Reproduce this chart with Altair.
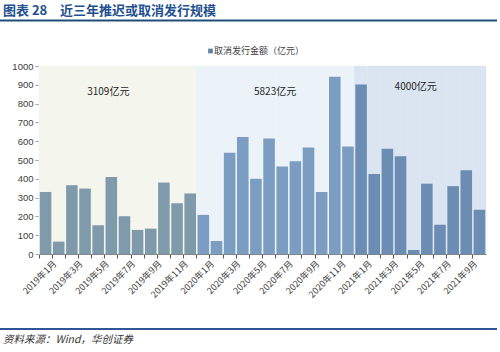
import altair as alt
import pandas as pd

months = [
    "2019年1月", "2019年2月", "2019年3月", "2019年4月", "2019年5月", "2019年6月",
    "2019年7月", "2019年8月", "2019年9月", "2019年10月", "2019年11月", "2019年12月",
    "2020年1月", "2020年2月", "2020年3月", "2020年4月", "2020年5月", "2020年6月",
    "2020年7月", "2020年8月", "2020年9月", "2020年10月", "2020年11月", "2020年12月",
    "2021年1月", "2021年2月", "2021年3月", "2021年4月", "2021年5月", "2021年6月",
    "2021年7月", "2021年8月", "2021年9月", "2021年10月",
]
values_2019 = [330, 66, 366, 348, 153, 410, 201, 128, 135, 380, 270, 322]
values_2020 = [208, 69, 538, 622, 400, 615, 465, 494, 567, 330, 943, 572]
values_2021 = [902, 425, 560, 520, 21, 374, 156, 361, 445, 236]
values = values_2019 + values_2020 + values_2021
years = ["2019"] * 12 + ["2020"] * 12 + ["2021"] * 10
shown_labels = ["2019年1月", "2019年3月", "2019年5月", "2019年7月", "2019年9月", "2019年11月",
                "2020年1月", "2020年3月", "2020年5月", "2020年7月", "2020年9月", "2020年11月",
                "2021年1月", "2021年3月", "2021年5月", "2021年7月", "2021年9月"]
y_ticks = [0, 100, 200, 300, 400, 500, 600, 700, 800, 900, 1000]
ann_months = ["2019年6月", "2020年6月", "2021年5月"]
ann_values = [862, 862, 888]
ann_texts = ["3109亿元", "5823亿元", "4000亿元"]
ann_dx = [-3, 6, 2]
y_max = 1000

df = pd.DataFrame({"month": months, "value": values, "year": years, "top": [y_max] * len(months)})

FONT = "Noto Sans CJK SC"
W, H = 447, 188
band = W / len(months)

label_test = "indexof([" + ",".join("'" + s + "'" for s in shown_labels) + "], datum.value) >= 0 ? datum.value : ''"

x_axis = alt.Axis(
    title=None, labelAngle=-45, labelAlign="right", labelBaseline="top",
    labelExpr=label_test, labelOverlap=False, bandPosition=0,
    labelOffset=band / 2, labelFont=FONT, labelFontSize=9, labelColor="#404040",
    domainColor="#595959", tickColor="#595959", tickSize=4, labelPadding=1,
)
x_scale = alt.Scale(paddingInner=0, paddingOuter=0)
y_axis = alt.Axis(
    title=None, values=y_ticks, grid=False, labelOverlap=False, format="d",
    domainColor="#a6a6a6", tickColor="#a6a6a6", tickSize=4,
    labelFont="Liberation Sans", labelFontSize=9.5, labelColor="#404040", labelPadding=2,
)
y_scale = alt.Scale(domain=[0, y_max], nice=False)


def xe():
    return alt.X("month:N", sort=months, scale=x_scale, axis=x_axis)


def ye(field):
    return alt.Y(field, scale=y_scale, axis=y_axis)


bg = alt.Chart(df).mark_bar(strokeWidth=0.6).encode(
    x=xe(),
    y=ye("top:Q"),
    fill=alt.Fill("year:N", scale=alt.Scale(domain=["2019", "2020", "2021"],
                                            range=["#F4F6EE", "#EBF3F9", "#DBE5F1"]), legend=None),
    stroke=alt.Stroke("year:N", scale=alt.Scale(domain=["2019", "2020", "2021"],
                                                range=["#F4F6EE", "#EBF3F9", "#DBE5F1"]), legend=None),
)

bars = alt.Chart(df).mark_bar(width=alt.RelativeBandSize(0.88)).encode(
    x=xe(),
    y=ye("value:Q"),
    color=alt.Color("year:N", scale=alt.Scale(domain=["2019", "2020", "2021"],
                                              range=["#7F9BAB", "#7B9DC2", "#6B8CB3"]), legend=None),
)

layers = [bg, bars]

for m, v, t, d in zip(ann_months, ann_values, ann_texts, ann_dx):
    adf = pd.DataFrame({"month": [m], "value": [v], "label": [t]})
    layers.append(
        alt.Chart(adf).mark_text(font=FONT, fontSize=10, color="#262626", dx=d).encode(
            x=xe(), y=ye("value:Q"), text="label:N"
        )
    )

one = pd.DataFrame({"t": ["取消发行金额（亿元）"]})
layers.append(alt.Chart(one).mark_square(size=22, color="#5F7FA3", opacity=1).encode(
    x=alt.value(171.5), y=alt.value(-15)))
layers.append(alt.Chart(one).mark_text(font=FONT, fontSize=9, color="#404040", align="left", baseline="middle").encode(
    x=alt.value(175), y=alt.value(-15), text="t:N"))

t1 = pd.DataFrame({"t": ["图表 28"]})
t2 = pd.DataFrame({"t": ["近三年推迟或取消发行规模"]})
src = pd.DataFrame({"t": ["资料来源：Wind，华创证券"]})
layers.append(alt.Chart(t1).mark_text(font=FONT, fontSize=13, fontWeight="bold", color="#23508F",
                                      align="left", baseline="middle").encode(
    x=alt.value(-36), y=alt.value(-55), text="t:N"))
layers.append(alt.Chart(t2).mark_text(font=FONT, fontSize=13, fontWeight="bold", color="#23508F",
                                      align="left", baseline="middle").encode(
    x=alt.value(21), y=alt.value(-55), text="t:N"))
layers.append(alt.Chart(src).mark_text(font=FONT, fontSize=10.5, fontStyle="italic", color="#333333",
                                       align="left", baseline="middle").encode(
    x=alt.value(-36), y=alt.value(H + 86), text="t:N"))
layers.append(alt.Chart(t1).mark_rule(color="#1F4E79", strokeWidth=2).encode(
    x=alt.value(-39), x2=alt.value(458), y=alt.value(-45.5)))
layers.append(alt.Chart(t1).mark_rule(color="#2F5597", strokeWidth=2).encode(
    x=alt.value(-39), x2=alt.value(458), y=alt.value(H + 75)))

chart = alt.layer(*layers).properties(
    width=W, height=H,
    autosize=alt.AutoSizeParams(type="none"),
    padding={"left": 39, "top": 66, "right": 14, "bottom": 98},
    background="white",
).configure_view(stroke=None)

chart.save("out.html", embed_options={"renderer": "svg", "actions": False})
